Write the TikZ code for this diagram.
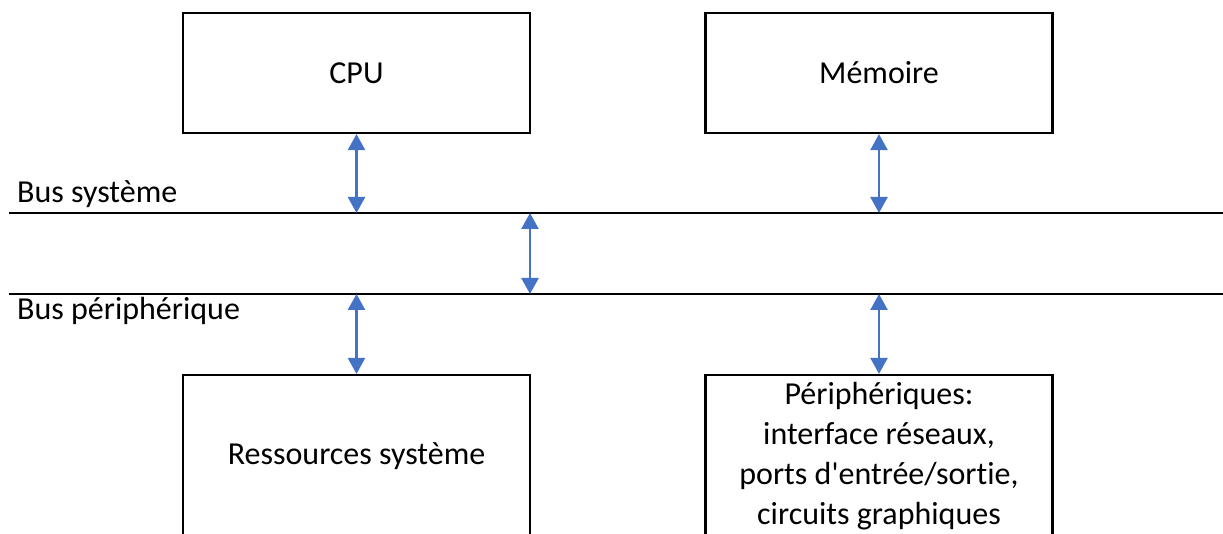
\documentclass[tikz,border=0pt]{standalone}
\usepackage{fontspec}
\setmainfont[Ligatures=NoCommon]{Carlito}
\usetikzlibrary{arrows.meta}
\definecolor{arrowblue}{HTML}{4472C4}
\tikzset{
  unitbox/.style={draw,line width=2.2pt,minimum width=347pt,inner sep=0pt,align=center},
  busline/.style={line width=2.2pt},
  busarrow/.style={arrowblue,line width=2.5pt,{Triangle[width=17pt,length=16pt]}-{Triangle[width=17pt,length=16pt]}}
}
\begin{document}
\begin{tikzpicture}[x=1pt,y=-1pt,font=\fontsize{32}{40}\selectfont]
\useasboundingbox (0,0) rectangle (1223,534);
\clip (0,0) rectangle (1223,534);
\node[unitbox,minimum height=120pt] (CPU) at (356.5,73) {CPU};
\node[unitbox,minimum height=120pt] (MEM) at (879,73) {Mémoire};
\node[unitbox,minimum height=162pt] (RES) at (356.5,456) {Ressources système};
\node[unitbox,minimum height=162pt] (PER) at (879,456) {Périphériques:\\interface réseaux,\\ports d\textquotesingle entrée/sortie,\\circuits graphiques};
\coordinate (SysL) at (9,213);
\coordinate (SysR) at (1223,213);
\coordinate (PerL) at (9,294);
\coordinate (PerR) at (1223,294);
\node[anchor=base west,inner sep=0pt] (SysLabel) at (17,203) {Bus système};
\node[anchor=base west,inner sep=0pt] (PerLabel) at (17,320) {Bus périphérique};
\coordinate (Bridge) at (530,213);
\draw[busline] (SysL) -- (SysR);
\draw[busline] (PerL) -- (PerR);
\draw[busarrow] (CPU.south) -- (CPU.south |- SysL);
\draw[busarrow] (MEM.south) -- (MEM.south |- SysL);
\draw[busarrow] (Bridge) -- (Bridge |- PerL);
\draw[busarrow] (RES.north |- PerL) -- (RES.north);
\draw[busarrow] (PER.north |- PerL) -- (PER.north);
\end{tikzpicture}
\end{document}
